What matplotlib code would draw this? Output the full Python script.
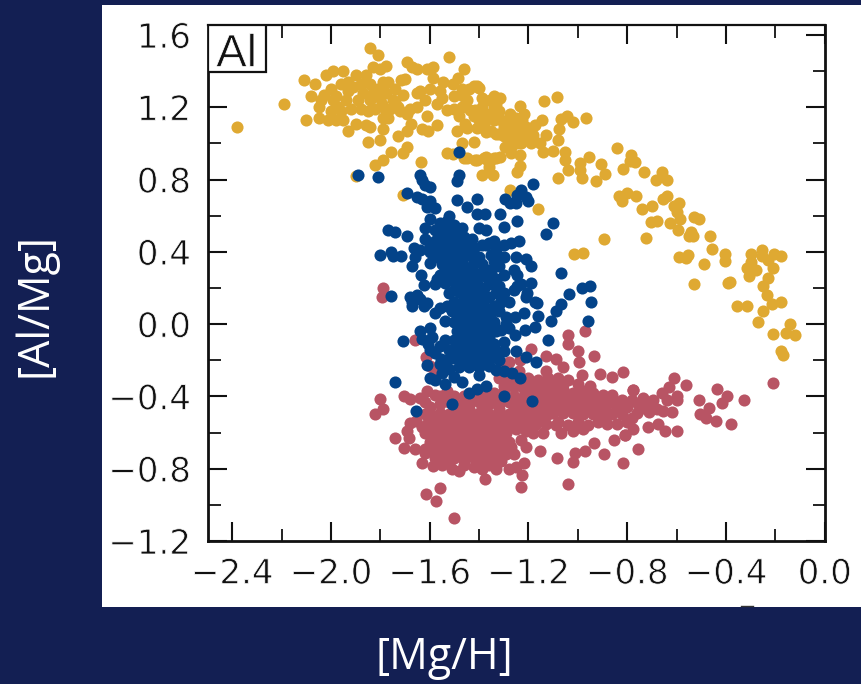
#!/usr/bin/env python3
import numpy as np
import matplotlib
matplotlib.use("Agg")
import matplotlib.pyplot as plt
import matplotlib.patheffects as pe
from matplotlib.lines import Line2D
from matplotlib.patches import Rectangle
from matplotlib.ticker import FixedLocator

# values: ([Mg/H], [Al/Mg])
yellow = np.array([
    (-2.38, 1.09), (-2.19, 1.22), (-2.11, 1.35), (-2.10, 1.13), (-2.08, 1.26), (-2.065, 1.33),
    (-2.05, 1.14), (-2.05, 1.20), (-2.04, 1.24), (-2.02, 1.38), (-1.99, 1.40), (-2.01, 1.13),
    (-2.00, 1.30), (-1.98, 1.13), (-1.95, 1.13), (-1.95, 1.40), (-1.96, 1.33), (-1.98, 1.26),
    (-1.94, 1.24), (-1.92, 1.19), (-1.96, 1.18), (-1.90, 1.38), (-1.86, 1.38), (-1.91, 1.31),
    (-1.87, 1.28), (-1.93, 1.07), (-1.90, 1.11), (-1.86, 1.10), (-1.84, 1.09), (-1.85, 1.01),
    (-1.85, 1.18), (-1.84, 1.53), (-1.81, 1.49), (-1.775, 1.43), (-1.83, 1.42), (-1.80, 1.41),
    (-1.77, 1.34), (-1.81, 1.30), (-1.775, 1.28), (-1.75, 1.24), (-1.74, 1.30), (-1.71, 1.27),
    (-1.795, 1.22), (-1.76, 1.19), (-1.73, 1.20), (-1.79, 1.14), (-1.77, 1.14), (-1.79, 1.08),
    (-1.80, 1.02), (-1.73, 1.04), (-1.69, 1.16), (-1.68, 1.19), (-1.69, 1.07), (-1.675, 1.11),
    (-1.63, 1.08), (-1.605, 1.07), (-1.57, 1.10), (-1.61, 1.15), (-1.65, 1.20), (-1.69, 0.98),
    (-1.71, 0.945), (-1.755, 0.95), (-1.79, 0.91), (-1.82, 0.88), (-1.635, 0.895), (-1.90, 0.82),
    (-1.71, 0.715), (-1.69, 1.45), (-1.67, 1.42), (-1.65, 1.41), (-1.61, 1.41), (-1.585, 1.425),
    (-1.715, 1.35), (-1.70, 1.355), (-1.52, 1.48), (-1.46, 1.41), (-1.485, 1.36), (-1.505, 1.33),
    (-1.585, 1.36), (-1.545, 1.34), (-1.64, 1.29), (-1.56, 1.29), (-1.62, 1.24), (-1.57, 1.22),
    (-1.53, 1.185), (-1.50, 1.26), (-1.465, 1.26), (-1.41, 1.32), (-1.415, 1.185), (-1.49, 1.07),
    (-1.45, 1.085), (-1.415, 1.16), (-1.37, 1.07), (-1.33, 1.05), (-1.47, 1.00), (-1.42, 1.01),
    (-1.53, 0.945), (-1.505, 0.94), (-1.46, 0.92), (-1.41, 0.91), (-1.37, 0.925), (-1.33, 0.92),
    (-1.39, 0.825), (-1.345, 0.825), (-1.36, 0.89), (-1.355, 1.24), (-1.33, 1.22), (-1.36, 1.165),
    (-1.34, 1.13), (-1.38, 1.11), (-2.03, 1.27), (-1.99, 1.24), (-1.97, 1.20), (-2.00, 1.18),
    (-1.93, 1.29), (-1.89, 1.24), (-1.88, 1.33), (-1.84, 1.33), (-1.84, 1.24), (-1.82, 1.19),
    (-1.80, 1.25), (-1.79, 1.34), (-1.74, 1.23), (-1.72, 1.18), (-1.42, 1.32), (-1.40, 1.305),
    (-1.34, 1.26), (-1.315, 1.25), (-1.34, 1.205), (-1.33, 1.175), (-1.36, 1.15), (-1.42, 1.15),
    (-1.45, 1.24), (-1.435, 1.185), (-1.455, 1.11), (-1.41, 1.085), (-1.37, 1.065), (-1.32, 1.05),
    (-1.30, 1.09), (-1.275, 1.165), (-1.235, 1.205), (-1.225, 1.13), (-1.22, 1.055), (-1.245, 1.00),
    (-1.275, 1.02), (-1.295, 0.98), (-1.18, 1.045), (-1.155, 1.00), (-1.14, 0.95), (-1.10, 0.96),
    (-1.13, 1.045), (-1.08, 1.02), (-1.075, 1.08), (-1.07, 1.135), (-1.045, 1.15), (-1.02, 1.12),
    (-0.965, 1.14), (-1.145, 1.13), (-1.175, 1.10), (-1.135, 1.235), (-1.085, 1.255), (-1.235, 0.935),
    (-1.27, 0.945), (-1.315, 0.925), (-1.34, 0.92), (-1.38, 0.92), (-1.415, 0.91), (-1.45, 0.92),
    (-1.36, 0.87), (-1.245, 0.84), (-1.235, 0.875), (-1.05, 0.955), (-1.05, 0.91), (-1.04, 0.855),
    (-1.08, 0.81), (-0.985, 0.81), (-0.99, 0.855), (-0.99, 0.89), (-0.955, 0.925), (-0.905, 0.885),
    (-0.89, 0.83), (-0.925, 0.79), (-0.84, 0.975), (-0.785, 0.935), (-0.77, 0.895), (-0.79, 0.90),
    (-0.815, 0.86), (-0.73, 0.84), (-0.66, 0.84), (-0.685, 0.795), (-0.64, 0.80), (-1.275, 0.74),
    (-1.16, 0.635), (-0.835, 0.71), (-0.80, 0.725), (-0.82, 0.68), (-0.765, 0.71), (-0.74, 0.635),
    (-0.70, 0.655), (-0.64, 0.71), (-0.655, 0.69), (-0.59, 0.67), (-0.61, 0.655), (-0.60, 0.62),
    (-0.585, 0.58), (-0.625, 0.56), (-0.705, 0.565), (-0.68, 0.57), (-0.595, 0.52), (-0.53, 0.595),
    (-0.51, 0.58), (-0.54, 0.51), (-0.55, 0.485), (-0.535, 0.49), (-0.465, 0.49), (-0.455, 0.415),
    (-0.405, 0.39), (-0.405, 0.35), (-0.49, 0.33), (-0.59, 0.37), (-0.555, 0.385), (-0.56, 0.365),
    (-0.725, 0.475), (-0.895, 0.47), (-1.015, 0.39), (-0.98, 0.395), (-0.53, 0.22), (-0.385, 0.235),
    (-0.30, 0.39), (-0.255, 0.41), (-0.255, 0.375), (-0.205, 0.39), (-0.175, 0.375), (-0.23, 0.355),
    (-0.30, 0.345), (-0.315, 0.31), (-0.28, 0.30), (-0.21, 0.31), (-0.305, 0.265), (-0.23, 0.255),
    (-0.25, 0.21), (-0.235, 0.16), (-0.175, 0.125), (-0.39, 0.23), (-0.215, 0.11), (-0.355, 0.10),
    (-0.315, 0.10), (-0.25, 0.07), (-0.27, 0.01), (-0.14, 0.00), (-0.21, -0.055), (-0.155, -0.05),
    (-0.12, -0.06), (-0.175, -0.15), (-0.17, -0.17), (-1.47, 1.20), (-1.48, 1.15), (-1.39, 1.20),
    (-1.39, 1.25), (-1.40, 1.13), (-1.28, 1.10), (-1.26, 1.06), (-1.24, 1.09), (-1.21, 1.09),
    (-1.25, 1.14), (-1.23, 1.00), (-1.20, 1.02), (-1.27, 0.98), (-1.31, 1.13), (-1.30, 1.04),
    (-1.93, 1.34), (-1.88, 1.19), (-1.83, 1.28), (-1.78, 1.19), (-1.65, 1.28), (-1.60, 1.30),
    (-1.55, 1.25), (-1.50, 1.19), (-1.47, 1.30), (-1.44, 1.30), (-1.38, 1.17), (-1.35, 1.07),
    (-1.32, 1.18), (-1.28, 1.07), (-1.25, 1.04), (-1.27, 1.12), (-1.22, 1.16), (-1.19, 1.00),
])

red = np.array([
    (-0.21, -0.325), (-0.325, -0.42), (-0.435, -0.36), (-0.395, -0.40), (-0.415, -0.435), (-0.51, -0.42),
    (-0.47, -0.465), (-0.505, -0.50), (-0.48, -0.52), (-0.44, -0.535), (-0.38, -0.555), (-0.56, -0.335),
    (-0.61, -0.30), (-0.63, -0.35), (-0.60, -0.395), (-0.60, -0.42), (-0.66, -0.38), (-0.64, -0.42),
    (-0.62, -0.485), (-0.655, -0.48), (-0.60, -0.59), (-0.645, -0.59), (-0.675, -0.555), (-0.715, -0.57),
    (-0.695, -0.42), (-0.735, -0.41), (-0.755, -0.44), (-0.74, -0.465), (-0.71, -0.485), (-0.775, -0.365),
    (-0.815, -0.265), (-0.775, -0.58), (-0.81, -0.615), (-0.755, -0.69), (-0.815, -0.77), (-0.80, -0.54),
    (-0.82, -0.50), (-0.78, -0.52), (-0.82, -0.42), (-0.76, -0.49), (-0.70, -0.45), (-0.68, -0.47),
    (-1.79, 0.20), (-1.795, 0.15), (-1.66, -0.09), (-1.80, -0.415), (-1.79, -0.47), (-1.82, -0.495),
    (-1.705, -0.40), (-1.68, -0.415), (-1.64, -0.41), (-1.61, -0.37), (-1.74, -0.63), (-1.705, -0.685),
    (-1.66, -0.69), (-1.685, -0.63), (-1.69, -0.59), (-1.68, -0.545), (-1.655, -0.535), (-1.63, -0.77),
    (-1.585, -0.785), (-1.62, -0.715), (-1.56, -0.905), (-1.615, -0.94), (-1.575, -0.98), (-1.50, -1.075),
    (-1.375, -0.855), (-1.23, -0.90), (-1.225, -0.835), (-1.04, -0.885), (-1.02, -0.765), (-1.01, -0.715),
    (-0.97, -0.70), (-1.085, -0.74), (-1.155, -0.70), (-0.895, -0.72), (-0.855, -0.64), (-0.935, -0.66),
    (-0.81, -0.615), (-0.775, -0.365), (-0.86, -0.295), (-0.91, -0.275), (-0.985, -0.28), (-0.935, -0.175),
    (-0.995, -0.21), (-1.00, -0.15), (-1.04, -0.06), (-1.04, -0.11), (-0.97, -0.04), (-1.06, -0.235),
    (-1.09, -0.195), (-1.13, -0.175), (-1.19, -0.14), (-1.235, -0.20), (-1.28, -0.21), (-1.615, -0.18),
    (-1.60, -0.23), (-1.58, -0.27), (-1.62, -0.43), (-1.60, -0.46), (-1.58, -0.39),
    # core, roughly row by row
    (-1.60, -0.50), (-1.56, -0.49), (-1.52, -0.50), (-1.48, -0.49), (-1.44, -0.50), (-1.40, -0.49), (-1.36, -0.50),
    (-1.32, -0.49), (-1.28, -0.50), (-1.24, -0.49), (-1.20, -0.50), (-1.16, -0.49), (-1.12, -0.50),
    (-1.61, -0.55), (-1.57, -0.54), (-1.53, -0.55), (-1.49, -0.54), (-1.45, -0.55), (-1.41, -0.54), (-1.37, -0.55),
    (-1.33, -0.54), (-1.29, -0.55), (-1.25, -0.54), (-1.21, -0.56), (-1.17, -0.55), (-1.13, -0.55), (-1.09, -0.56),
    (-1.57, -0.60), (-1.53, -0.59), (-1.49, -0.60), (-1.45, -0.59), (-1.41, -0.60), (-1.37, -0.59), (-1.33, -0.60),
    (-1.29, -0.60), (-1.25, -0.58), (-1.21, -0.59), (-1.07, -0.60), (-1.02, -0.59), (-0.98, -0.58),
    (-1.60, -0.65), (-1.56, -0.64), (-1.52, -0.65), (-1.48, -0.64), (-1.44, -0.65), (-1.40, -0.64), (-1.36, -0.65),
    (-1.32, -0.64), (-1.28, -0.65),
    (-1.62, -0.69), (-1.58, -0.70), (-1.54, -0.69), (-1.50, -0.70), (-1.46, -0.69), (-1.42, -0.70), (-1.38, -0.69),
    (-1.34, -0.70), (-1.30, -0.68), (-1.26, -0.72), (-1.21, -0.68),
    (-1.58, -0.74), (-1.54, -0.75), (-1.50, -0.74), (-1.46, -0.75), (-1.42, -0.74), (-1.38, -0.75), (-1.34, -0.75),
    (-1.29, -0.72), (-1.22, -0.77),
    (-1.55, -0.78), (-1.51, -0.80), (-1.48, -0.81), (-1.42, -0.79), (-1.39, -0.80), (-1.33, -0.80), (-1.28, -0.80),
    (-1.25, -0.79),
    (-1.58, -0.52), (-1.54, -0.52), (-1.50, -0.52), (-1.46, -0.52), (-1.42, -0.52), (-1.38, -0.52), (-1.34, -0.52),
    (-1.30, -0.52), (-1.26, -0.52), (-1.22, -0.52), (-1.18, -0.52), (-1.14, -0.52), (-1.59, -0.575), (-1.55, -0.57),
    (-1.51, -0.57), (-1.47, -0.57), (-1.43, -0.57), (-1.39, -0.57), (-1.35, -0.57), (-1.31, -0.57), (-1.27, -0.57),
    (-1.58, -0.62), (-1.54, -0.62), (-1.50, -0.62), (-1.46, -0.62), (-1.42, -0.62), (-1.38, -0.62), (-1.34, -0.62),
    (-1.30, -0.62), (-1.57, -0.67), (-1.53, -0.67), (-1.49, -0.67), (-1.45, -0.67), (-1.41, -0.67), (-1.37, -0.67),
    (-1.33, -0.67), (-1.29, -0.66), (-1.56, -0.72), (-1.52, -0.72), (-1.48, -0.72), (-1.44, -0.72), (-1.40, -0.72),
    (-1.36, -0.72), (-1.32, -0.72), (-1.52, -0.77), (-1.46, -0.78), (-1.40, -0.77), (-1.36, -0.78), (-1.31, -0.76),
    (-1.62, -0.60), (-1.62, -0.50), (-1.63, -0.57), (-1.27, -0.68), (-1.23, -0.64), (-1.18, -0.60), (-1.14, -0.60),
    # band running right
    (-1.56, -0.44), (-1.52, -0.43), (-1.48, -0.45), (-1.44, -0.44), (-1.40, -0.43), (-1.36, -0.44), (-1.32, -0.44),
    (-1.28, -0.43), (-1.24, -0.44), (-1.20, -0.43), (-1.16, -0.43), (-1.12, -0.43), (-1.08, -0.44), (-1.04, -0.43),
    (-1.00, -0.44), (-0.96, -0.43), (-0.92, -0.44), (-0.88, -0.44), (-0.84, -0.46),
    (-1.38, -0.38), (-1.34, -0.38), (-1.30, -0.37), (-1.26, -0.35), (-1.22, -0.36), (-1.18, -0.37), (-1.14, -0.36),
    (-1.10, -0.37), (-1.06, -0.36), (-1.02, -0.38), (-0.98, -0.37), (-0.94, -0.38), (-0.90, -0.39), (-0.86, -0.39),
    (-1.32, -0.30), (-1.28, -0.31), (-1.24, -0.32), (-1.20, -0.30), (-1.16, -0.31), (-1.12, -0.30), (-1.08, -0.30),
    (-1.04, -0.31), (-1.00, -0.33), (-0.95, -0.34), (-1.13, -0.26), (-1.30, -0.25), (-1.24, -0.26),
    (-1.10, -0.49), (-1.06, -0.49), (-1.02, -0.49), (-0.98, -0.50), (-0.94, -0.50), (-0.90, -0.51), (-0.86, -0.50),
    (-1.08, -0.54), (-1.04, -0.56), (-1.00, -0.54), (-0.96, -0.56), (-0.92, -0.54), (-0.88, -0.55), (-0.84, -0.55),
    (-1.54, -0.41), (-1.50, -0.40), (-1.46, -0.40), (-1.42, -0.41), (-1.38, -0.41), (-1.34, -0.41), (-1.30, -0.41),
    (-1.26, -0.40), (-1.22, -0.40), (-1.18, -0.40), (-1.14, -0.40), (-1.10, -0.40), (-1.06, -0.40), (-1.02, -0.41),
    (-0.98, -0.40), (-0.94, -0.41), (-0.90, -0.42), (-0.86, -0.43), (-1.26, -0.46), (-1.22, -0.47), (-1.18, -0.46),
    (-1.14, -0.46), (-1.10, -0.46), (-1.06, -0.46), (-1.02, -0.46), (-0.98, -0.47), (-0.94, -0.47), (-0.90, -0.47),
    (-1.30, -0.34), (-1.16, -0.34), (-1.10, -0.33), (-1.06, -0.33), (-1.13, -0.32), (-1.20, -0.33),
    (-1.50, -0.46), (-1.44, -0.47), (-1.38, -0.47), (-1.32, -0.47), (-1.56, -0.40), (-1.53, -0.37),
    (-0.80, -0.46), (-0.78, -0.42), (-0.74, -0.44),
])

blue = np.array([
    (-1.89, 0.825), (-1.81, 0.815), (-1.48, 0.95), (-1.48, 0.825), (-1.49, 0.79), (-1.64, 0.825),
    (-1.63, 0.80), (-1.62, 0.77), (-1.60, 0.76), (-1.69, 0.725), (-1.65, 0.705), (-1.63, 0.69),
    (-1.60, 0.68), (-1.58, 0.64), (-1.61, 0.65), (-1.49, 0.685), (-1.45, 0.65), (-1.41, 0.69),
    (-1.41, 0.61), (-1.375, 0.61), (-1.77, 0.52), (-1.74, 0.51), (-1.69, 0.49), (-1.665, 0.42),
    (-1.80, 0.38), (-1.755, 0.40), (-1.75, 0.375), (-1.715, 0.375), (-1.67, 0.32), (-1.635, 0.27),
    (-1.625, 0.215), (-1.57, 0.25), (-1.755, 0.155), (-1.68, 0.15), (-1.65, 0.16), (-1.40, 0.53),
    (-1.37, 0.52), (-1.33, 0.355), (-1.36, 0.30), (-1.18, 0.775), (-1.23, 0.74), (-1.245, 0.715),
    (-1.21, 0.705), (-1.20, 0.68), (-1.295, 0.69), (-1.275, 0.67), (-1.25, 0.67), (-1.315, 0.61),
    (-1.245, 0.57), (-1.10, 0.56), (-1.13, 0.50), (-1.30, 0.535), (-1.34, 0.46), (-1.37, 0.44),
    (-1.30, 0.44), (-1.27, 0.45), (-1.24, 0.46), (-1.30, 0.37), (-1.34, 0.35), (-1.25, 0.37),
    (-1.21, 0.36), (-1.19, 0.32), (-1.26, 0.30), (-1.245, 0.27), (-1.35, 0.29), (-1.19, 0.23),
    (-1.32, 0.21), (-1.26, 0.19), (-1.21, 0.15), (-1.31, 0.15), (-1.23, 0.22), (-1.07, 0.285),
    (-0.985, 0.20), (-0.95, 0.21), (-1.035, 0.165), (-0.945, 0.125), (-1.175, 0.12), (-0.96, 0.02),
    (-1.07, 0.11), (-1.09, 0.07), (-1.11, 0.02), (-1.12, -0.09), (-1.17, -0.21), (-1.21, -0.18),
    (-1.25, -0.15), (-1.165, 0.115), (-1.16, 0.045), (-1.175, -0.015), (-1.215, -0.03), (-1.255, -0.06),
    (-1.22, 0.06), (-1.255, 0.04), (-1.29, 0.04), (-1.205, 0.17), (-1.245, 0.21), (-1.315, 0.115),
    (-1.30, 0.17), (-1.71, -0.095), (-1.74, -0.32), (-1.655, -0.48), (-1.51, -0.44), (-1.30, -0.40),
    (-1.185, -0.425), (-1.44, -0.38), (-1.41, -0.36), (-1.37, -0.34), (-1.47, -0.32), (-1.54, -0.33),
    (-1.60, -0.30), (-1.58, -0.31), (-1.61, -0.225), (-1.555, -0.195), (-1.52, -0.145), (-1.60, -0.145),
    (-1.64, -0.04), (-1.60, -0.02), (-1.63, -0.08), (-1.59, -0.07), (-1.56, -0.12), (-1.605, -0.11),
    (-1.58, 0.06), (-1.56, 0.09), (-1.54, 0.02), (-1.67, 0.12), (-1.67, 0.10), (-1.64, 0.14),
    (-1.625, 0.10), (-1.61, 0.115), (-1.235, -0.30), (-1.265, -0.27), (-1.30, -0.26), (-1.33, -0.255),
    (-1.35, -0.19), (-1.30, -0.15), (-1.30, -0.10), (-1.34, -0.11),
    # upper clump
    (-1.56, 0.56), (-1.53, 0.57), (-1.50, 0.55), (-1.47, 0.53), (-1.58, 0.52), (-1.54, 0.51), (-1.50, 0.50),
    (-1.46, 0.48), (-1.43, 0.47), (-1.62, 0.47), (-1.58, 0.46), (-1.54, 0.45), (-1.50, 0.44), (-1.46, 0.43),
    (-1.42, 0.42), (-1.39, 0.44), (-1.64, 0.41), (-1.60, 0.40), (-1.56, 0.39), (-1.52, 0.38), (-1.48, 0.40),
    (-1.44, 0.38), (-1.40, 0.37), (-1.60, 0.34), (-1.55, 0.33), (-1.51, 0.34), (-1.47, 0.35), (-1.43, 0.32),
    (-1.39, 0.33), (-1.56, 0.27), (-1.52, 0.28), (-1.45, 0.27), (-1.41, 0.28), (-1.37, 0.26), (-1.58, 0.22),
    (-1.54, 0.23), (-1.49, 0.22), (-1.45, 0.21), (-1.41, 0.22), (-1.38, 0.20), (-1.52, 0.17), (-1.48, 0.18),
    (-1.44, 0.16), (-1.40, 0.17), (-1.36, 0.15),
    (-1.52, 0.53), (-1.56, 0.49), (-1.52, 0.47), (-1.48, 0.46), (-1.60, 0.44), (-1.56, 0.42), (-1.52, 0.41),
    (-1.48, 0.37), (-1.44, 0.41), (-1.58, 0.37), (-1.54, 0.36), (-1.50, 0.31), (-1.46, 0.30), (-1.42, 0.35),
    (-1.54, 0.30), (-1.48, 0.26), (-1.43, 0.25), (-1.39, 0.27), (-1.50, 0.24), (-1.46, 0.24), (-1.42, 0.19),
    (-1.50, 0.19), (-1.46, 0.15), (-1.42, 0.14), (-1.38, 0.14),
    (-1.36, 0.45), (-1.33, 0.41), (-1.35, 0.38), (-1.32, 0.32), (-1.33, 0.25), (-1.30, 0.27), (-1.35, 0.22),
    (-1.33, 0.17), (-1.62, 0.53), (-1.60, 0.58), (-1.52, 0.60), (-1.66, 0.37),
    # lower column
    (-1.50, 0.12), (-1.46, 0.11), (-1.42, 0.12), (-1.38, 0.10), (-1.34, 0.10), (-1.51, 0.07), (-1.47, 0.06),
    (-1.43, 0.07), (-1.39, 0.05), (-1.35, 0.06), (-1.50, 0.01), (-1.46, 0.00), (-1.42, 0.02), (-1.38, 0.00),
    (-1.34, 0.01), (-1.49, -0.04), (-1.45, -0.05), (-1.41, -0.04), (-1.37, -0.05), (-1.33, -0.04), (-1.50, -0.09),
    (-1.46, -0.10), (-1.42, -0.09), (-1.38, -0.10), (-1.49, -0.14), (-1.45, -0.15), (-1.41, -0.14), (-1.37, -0.15),
    (-1.50, -0.19), (-1.46, -0.20), (-1.42, -0.19), (-1.38, -0.20), (-1.48, -0.24), (-1.44, -0.24), (-1.40, -0.28),
    (-1.52, -0.25), (-1.50, -0.29), (-1.55, -0.27),
    (-1.48, 0.09), (-1.44, 0.09), (-1.40, 0.08), (-1.48, 0.03), (-1.44, 0.04), (-1.40, 0.03), (-1.36, 0.03),
    (-1.47, -0.02), (-1.43, -0.02), (-1.39, -0.02), (-1.35, -0.02), (-1.48, -0.07), (-1.44, -0.07), (-1.40, -0.07),
    (-1.36, -0.07), (-1.47, -0.12), (-1.43, -0.12), (-1.39, -0.12), (-1.48, -0.17), (-1.44, -0.17), (-1.40, -0.17),
    (-1.36, -0.18), (-1.46, -0.22), (-1.42, -0.22), (-1.40, -0.24), (-1.36, -0.23), (-1.53, -0.20), (-1.56, -0.22),
    (-1.58, -0.16), (-1.54, -0.09), (-1.32, -0.20), (-1.33, -0.15), (-1.31, -0.03), (-1.29, 0.00), (-1.53, 0.10),
    (-1.28, 0.12), (-1.28, -0.02), (-1.32, 0.07),
])

x_major = [-2.4, -2.0, -1.6, -1.2, -0.8, -0.4, 0.0]
x_minor = [-2.2, -1.8, -1.4, -1.0, -0.6, -0.2]
y_major = [-1.2, -0.8, -0.4, 0.0, 0.4, 0.8, 1.2, 1.6]
y_minor = [-1.0, -0.6, -0.2, 0.2, 0.6, 1.0, 1.4]
NAVY = "#131F53"
INK = "#111111"
# eats into the glyph outlines, the reference lettering is thinner than DejaVu
THIN = [pe.Stroke(linewidth=0.55, foreground="white")]

fig = plt.figure(figsize=(8.61, 6.84), dpi=100, facecolor=NAVY)
fig.add_artist(Rectangle((102 / 861, 1 - 607 / 684), 759 / 861, 602 / 684, transform=fig.transFigure,
                         facecolor="white", edgecolor="none", zorder=-1))

ax = fig.add_axes([207.5 / 861, 1 - 541 / 684, 617.2 / 861, 516 / 684])
ax.set_facecolor("white")
ax.scatter(yellow[:, 0], yellow[:, 1], s=76, color="#DFA932", linewidths=0, zorder=3)
ax.scatter(red[:, 0], red[:, 1], s=76, color="#B85464", linewidths=0, zorder=4)
ax.scatter(blue[:, 0], blue[:, 1], s=76, color="#034389", linewidths=0, zorder=5)
ax.set_xlim(-2.5, 0.0)
ax.set_ylim(-1.2, 1.655)

ax.xaxis.set_major_locator(FixedLocator(x_major))
ax.xaxis.set_minor_locator(FixedLocator(x_minor))
ax.yaxis.set_major_locator(FixedLocator(y_major))
ax.yaxis.set_minor_locator(FixedLocator(y_minor))
ax.set_xticklabels(["\u2212%.1f" % abs(v) if v < 0 else "%.1f" % v for v in x_major])
ax.set_yticklabels(["\u2212%.1f" % abs(v) if v < 0 else "%.1f" % v for v in y_major])
ax.tick_params(which="major", direction="in", top=True, right=True, length=14, width=1.5,
               labelsize=24.5, labelcolor=INK, color=INK)
ax.tick_params(which="minor", direction="in", top=True, right=True, length=9, width=1.3, color=INK)
ax.tick_params(axis="x", which="major", pad=12)
ax.tick_params(axis="y", which="major", pad=12)
for tick_label in ax.get_xticklabels() + ax.get_yticklabels():
    tick_label.set_family("DejaVu Sans")
    tick_label.set_path_effects(THIN)
for spine in ax.spines.values():
    spine.set_linewidth(2.0)
    spine.set_color(INK)
ax.spines["top"].set_linewidth(1.6)

# "Al" box in the corner
ax.add_patch(Rectangle((-2.5, 1.393), 0.236, 0.262, facecolor="white", edgecolor=INK, linewidth=1.6, zorder=6))
ax.text(-2.382, 1.425, "Al", ha="center", va="baseline", fontsize=33, color=INK,
        family="Liberation Sans", zorder=7, path_effects=THIN)

# cropped remains of the original axis title on the panel's bottom edge
fig.add_artist(Line2D([741 / 861, 753 / 861], [1 - 605.5 / 684] * 2, color="#333333", linewidth=1.0))

fig.text(444 / 861, 1 - 658 / 684, "[Mg/H]", color="white", fontsize=31, ha="center", va="center",
         family="Open Sans")
fig.text(35 / 861, 1 - 305 / 684, "[Al/Mg]", color="white", fontsize=31, ha="center", va="center",
         rotation=90, family="Open Sans")

fig.savefig("out.png", dpi=100, facecolor=fig.get_facecolor())
